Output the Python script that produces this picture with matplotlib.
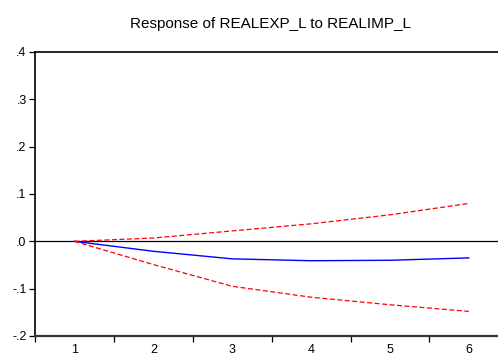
import matplotlib
matplotlib.use('Agg')
import matplotlib.pyplot as plt
from matplotlib.ticker import FixedLocator, FixedFormatter

plt.rcParams['font.family'] = ['Liberation Sans', 'DejaVu Sans']

# impulse response
periods = [1, 2, 3, 4, 5, 6]
response = [0.0, -0.021, -0.037, -0.041, -0.040, -0.035]
upper = [0.0, 0.007, 0.022, 0.037, 0.056, 0.080]
lower = [0.0, -0.049, -0.095, -0.118, -0.134, -0.148]

yticks = [-0.2, -0.1, 0.0, 0.1, 0.2, 0.3, 0.4]
ylabels = ['-.2', '-.1', '.0', '.1', '.2', '.3', '.4']

fig = plt.figure(figsize=(4.98, 3.55), dpi=100)
ax = fig.add_axes([35/498, 1 - 336/355, 463/498, 284/355])

ax.axhline(0, color='black', linewidth=0.9)
ax.plot(periods, response, color='#0000ff', linewidth=1.0)
ax.plot(periods, upper, color='#ff0000', linewidth=0.9, linestyle=(0, (4, 2)))
ax.plot(periods, lower, color='#ff0000', linewidth=0.9, linestyle=(0, (4, 2)))

ax.set_xlim(0.5, 6.37)
ax.set_ylim(-0.2, 0.4)

ax.set_yticks(yticks)
ax.set_yticklabels(ylabels)

# labels at integers, ticks between periods
ax.xaxis.set_major_locator(FixedLocator(periods))
ax.xaxis.set_major_formatter(FixedFormatter([str(p) for p in periods]))
ax.xaxis.set_minor_locator(FixedLocator([0.5 + i for i in range(7)]))
ax.tick_params(axis='x', which='major', length=0, pad=6, labelsize=9)
ax.tick_params(axis='x', which='minor', length=4, width=0.9, direction='out')
ax.tick_params(axis='y', length=4, width=0.9, direction='out', labelsize=9, pad=2)

ax.spines['right'].set_visible(False)
ax.spines['left'].set_linewidth(1.2)
ax.spines['top'].set_linewidth(1.2)
ax.spines['bottom'].set_linewidth(1.6)
ax.spines['bottom'].set_color('#333333')

fig.text(271/498, 1 - 24/355, 'Response of REALEXP_L to REALIMP_L',
         ha='center', va='center', fontsize=11)

fig.savefig('out.png', dpi=100)
